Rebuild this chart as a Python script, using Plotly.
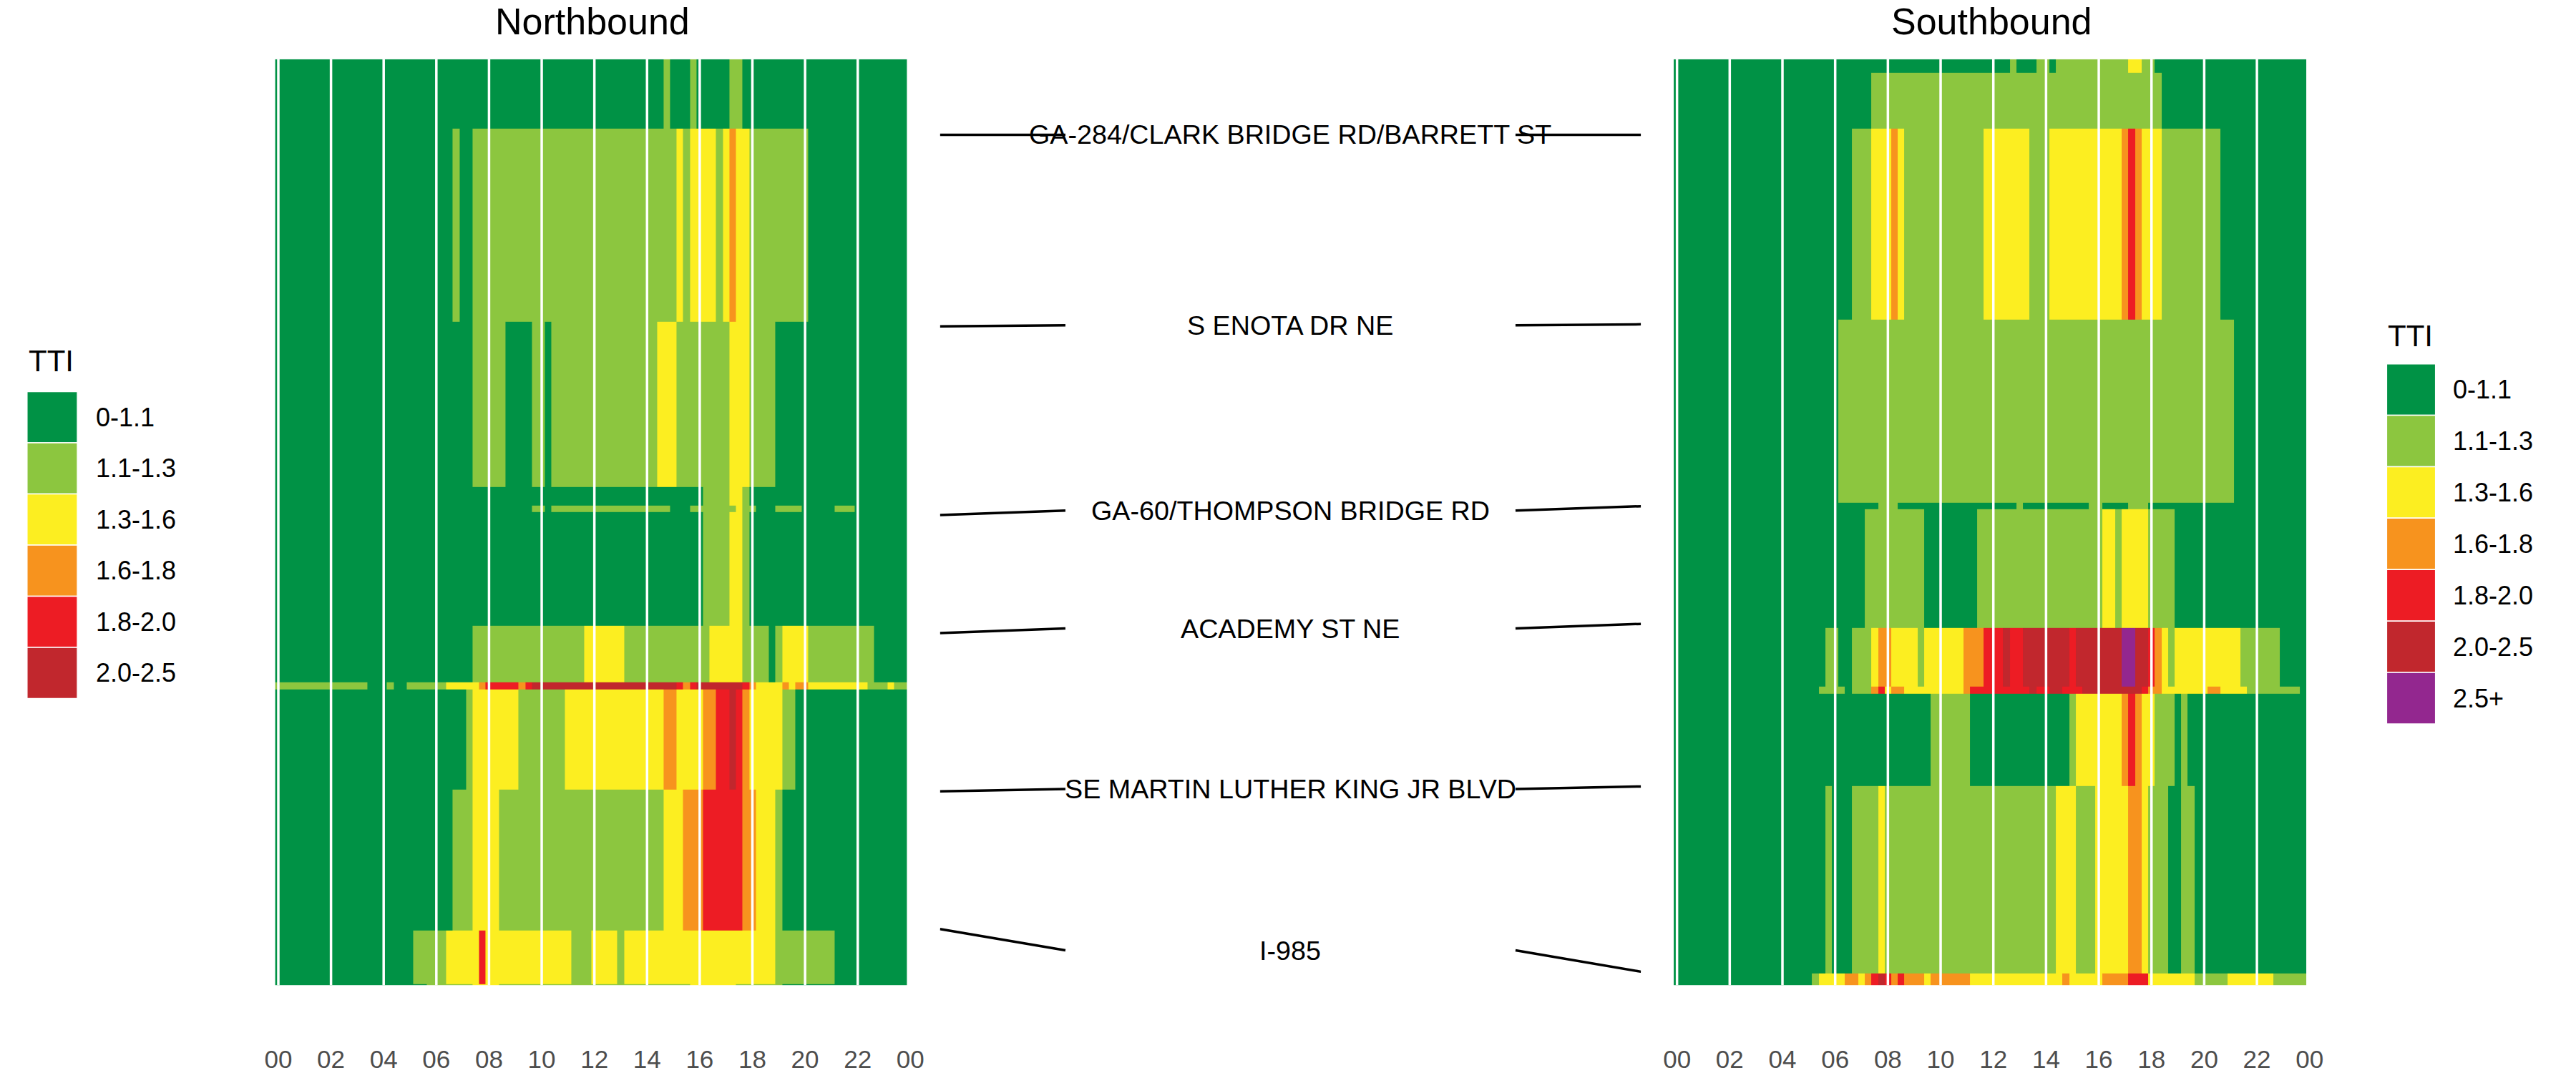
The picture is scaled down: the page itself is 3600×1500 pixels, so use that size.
import numpy as np
import plotly.graph_objects as go

W, H = 3600, 1500
FONT = "Liberation Sans, Arial, Helvetica, sans-serif"

# ---------------- data ----------------
CATEGORIES = ["0-1.1", "1.1-1.3", "1.3-1.6", "1.6-1.8", "1.8-2.0", "2.0-2.5", "2.5+"]
COLORS = ["#009245", "#8CC63F", "#FCEE21", "#F7931E", "#ED1C24", "#C1272D", "#93278F"]

N_BINS = 96                      # 15-minute bins over the day
HOUR_TICKS = list(range(0, 25, 2))
TICK_LABELS = ["00", "02", "04", "06", "08", "10", "12", "14", "16", "18", "20", "22", "00"]

# Northbound segments, listed from north end (top) to south end (bottom); lengths in miles
NB_SEG_LEN = [0.337, 0.942, 0.806, 0.090, 0.031, 0.552, 0.278, 0.035, 0.486, 0.685, 0.261, 0.007]
# TTI category per 15-min bin, run-length encoded as (category, number of bins)
NB_ROWS = [
    [(0, 59), (1, 1), (0, 3), (1, 1), (0, 5), (1, 2), (0, 25)],
    [(0, 27), (1, 1), (0, 2), (1, 31), (2, 1), (1, 1), (2, 4), (1, 1), (2, 1), (3, 1), (2, 2), (1, 9), (0, 15)],
    [(0, 30), (1, 5), (0, 4), (1, 2), (0, 1), (1, 16), (2, 3), (1, 8), (2, 3), (1, 4), (0, 20)],
    [(0, 65), (1, 4), (2, 2), (1, 1), (0, 24)],
    [(0, 39), (1, 2), (0, 1), (1, 18), (0, 3), (1, 7), (2, 1), (1, 2), (0, 3), (1, 4), (0, 5), (1, 3), (0, 8)],
    [(0, 65), (1, 4), (2, 2), (1, 1), (0, 24)],
    [(0, 30), (1, 17), (2, 6), (1, 13), (2, 5), (1, 4), (0, 1), (1, 1), (2, 4), (1, 10), (0, 5)],
    [(1, 14), (0, 3), (1, 1), (0, 2), (1, 6), (2, 5), (3, 1), (4, 5), (3, 1), (4, 1), (5, 22), (4, 1), (3, 1),
     (4, 1), (5, 7), (4, 1), (3, 1), (2, 4), (3, 1), (2, 1), (3, 2), (2, 9), (1, 3), (2, 1), (1, 2)],
    [(0, 29), (1, 1), (2, 7), (1, 7), (2, 15), (3, 2), (2, 4), (3, 2), (4, 2), (5, 1), (4, 1), (3, 1), (2, 5), (1, 2), (0, 17)],
    [(0, 27), (1, 3), (2, 4), (1, 25), (2, 3), (3, 3), (4, 6), (3, 2), (2, 3), (1, 1), (0, 19)],
    [(0, 21), (1, 5), (2, 5), (4, 1), (2, 13), (1, 3), (2, 4), (1, 1), (2, 23), (1, 9), (0, 11)],
    [(0, 23), (1, 7), (2, 4), (1, 29), (2, 7), (1, 7), (0, 19)],
]

# Southbound segments, north end (top) to south end (bottom)
SB_SEG_LEN = [0.066, 0.271, 0.931, 0.893, 0.031, 0.577, 0.285, 0.035, 0.452, 0.910, 0.059]
SB_ROWS = [
    [(0, 51), (1, 1), (0, 3), (1, 2), (0, 1), (1, 11), (2, 2), (1, 2), (0, 23)],
    [(0, 30), (1, 44), (0, 22)],
    [(0, 27), (1, 3), (2, 3), (3, 1), (2, 1), (1, 12), (2, 7), (1, 3), (2, 11), (3, 1), (4, 1), (3, 1), (2, 3), (1, 9), (0, 13)],
    [(0, 25), (1, 60), (0, 11)],
    [(0, 31), (1, 3), (0, 18), (1, 1), (0, 10), (1, 2), (0, 4), (1, 3), (0, 24)],
    [(0, 29), (1, 9), (0, 8), (1, 19), (2, 2), (1, 1), (2, 4), (1, 4), (0, 20)],
    [(0, 23), (1, 2), (0, 2), (1, 3), (2, 1), (3, 2), (2, 4), (1, 1), (2, 6), (3, 3), (4, 3), (5, 1), (4, 2),
     (5, 7), (4, 1), (5, 7), (6, 2), (5, 2), (4, 1), (3, 1), (2, 1), (1, 1), (2, 10), (1, 6), (0, 4)],
    [(0, 22), (1, 4), (0, 1), (1, 3), (3, 1), (4, 1), (2, 1), (3, 2), (2, 9), (3, 1), (4, 9), (5, 1), (4, 2),
     (5, 2), (4, 3), (5, 9), (4, 1), (3, 2), (2, 7), (3, 2), (2, 4), (1, 8), (0, 1)],
    [(0, 39), (1, 6), (0, 15), (1, 1), (2, 7), (3, 1), (4, 1), (3, 1), (2, 2), (1, 3), (0, 1), (1, 1), (0, 18)],
    [(0, 23), (1, 1), (0, 3), (1, 4), (2, 1), (1, 26), (2, 3), (1, 3), (2, 5), (3, 2), (2, 1), (1, 3), (0, 2), (1, 2), (0, 17)],
    [(0, 21), (1, 1), (2, 4), (3, 2), (2, 1), (3, 1), (4, 1), (5, 1), (4, 1), (3, 1), (4, 1), (3, 3), (2, 1),
     (3, 6), (2, 14), (3, 1), (2, 5), (3, 4), (4, 3), (2, 7), (1, 5), (2, 7), (1, 5)],
]

INTERSECTIONS = ["GA-284/CLARK BRIDGE RD/BARRETT ST", "S ENOTA DR NE", "GA-60/THOMPSON BRIDGE RD",
                 "ACADEMY ST NE", "SE MARTIN LUTHER KING JR BLVD", "I-985"]
NB_INT_POS = [4.142, 3.209, 2.290, 1.715, 0.944, 0.274]   # miles from south end
SB_INT_POS = [4.142, 3.219, 2.333, 1.760, 0.968, 0.066]


# ---------------- helpers ----------------
def expand(runs):
    out = []
    for cat, n in runs:
        out += [cat] * n
    assert len(out) == N_BINS, len(out)
    return out


def build(rows, seg_len):
    z = [expand(r) for r in rows][::-1]          # bottom row first
    y_edges = np.concatenate([[0.0], np.cumsum(seg_len[::-1])])
    return z, y_edges


x_edges = np.arange(N_BINS + 1) * 0.25 - 0.125

ncat = len(COLORS)
colorscale = []
for k, c in enumerate(COLORS):
    colorscale += [[k / ncat, c], [(k + 1) / ncat, c]]

px = lambda v: v / W
py = lambda v: 1 - v / H

total_len = float(np.sum(NB_SEG_LEN))

# panel geometry (pixels)
NB_X = (372.9, 1269.3)
SB_X = (2346.2, 3243.4)
PANEL_Y = (83, 1381)
MID_X = (1311, 2300)
XRANGE = [-0.125, 24.0]
ydom = [py(PANEL_Y[1]), py(PANEL_Y[0])]

fig = go.Figure()

z_nb, y_nb = build(NB_ROWS, NB_SEG_LEN)
z_sb, y_sb = build(SB_ROWS, SB_SEG_LEN)

for z, ye, xa, ya in [(z_nb, y_nb, "x", "y"), (z_sb, y_sb, "x2", "y2")]:
    fig.add_trace(go.Heatmap(
        z=z, x=x_edges, y=ye, colorscale=colorscale, zmin=-0.5, zmax=ncat - 0.5,
        showscale=False, xaxis=xa, yaxis=ya, hoverinfo="skip", zsmooth=False,
    ))

# connectors between the panels
a_left = (1488 - MID_X[0]) / (MID_X[1] - MID_X[0])
a_right = (2123 - MID_X[0]) / (MID_X[1] - MID_X[0])
for name, ynb, ysb in zip(INTERSECTIONS, NB_INT_POS, SB_INT_POS):
    ymid = (ynb + ysb) / 2
    fig.add_trace(go.Scatter(x=[0, a_left], y=[ynb, ymid], mode="lines",
                             line=dict(color="black", width=3.5), xaxis="x3", yaxis="y3",
                             hoverinfo="skip", showlegend=False))
    fig.add_trace(go.Scatter(x=[a_right, 1], y=[ymid, ysb], mode="lines",
                             line=dict(color="black", width=3.5), xaxis="x3", yaxis="y3",
                             hoverinfo="skip", showlegend=False))
    fig.add_annotation(x=0.5, y=ymid, xref="x3", yref="y3", text=name, showarrow=False,
                       font=dict(family=FONT, size=37.7, color="black"),
                       xanchor="center", yanchor="middle")

xaxis_common = dict(range=XRANGE, tickvals=HOUR_TICKS, ticktext=TICK_LABELS, showgrid=False,
                    zeroline=False, showline=False, ticks="", ticklabelstandoff=80,
                    tickfont=dict(family=FONT, size=35, color="#4D4D4D"), fixedrange=True)
yaxis_common = dict(range=[0, total_len], domain=ydom, visible=False, fixedrange=True)

fig.update_layout(
    width=W, height=H, margin=dict(l=0, r=0, t=0, b=0),
    paper_bgcolor="white", plot_bgcolor="white", showlegend=False,
    xaxis=dict(domain=[px(NB_X[0]), px(NB_X[1])], anchor="y", **xaxis_common),
    yaxis=dict(anchor="x", **yaxis_common),
    xaxis2=dict(domain=[px(SB_X[0]), px(SB_X[1])], anchor="y2", **xaxis_common),
    yaxis2=dict(anchor="x2", **yaxis_common),
    xaxis3=dict(domain=[px(MID_X[0]), px(MID_X[1])], anchor="y3", range=[0, 1], visible=False),
    yaxis3=dict(anchor="x3", **yaxis_common),
)

# white 2-hour lines over the tiles
shapes = []
for xa, ya in [("x", "y"), ("x2", "y2")]:
    for h in HOUR_TICKS[:-1]:
        shapes.append(dict(type="line", xref=xa, yref=f"{ya} domain", x0=h, x1=h, y0=0, y1=1,
                           line=dict(color="white", width=3.5), layer="above"))

# panel titles
for text, dom in [("Northbound", NB_X), ("Southbound", SB_X)]:
    fig.add_annotation(x=px((dom[0] + dom[1]) / 2), y=1, xref="paper", yref="paper",
                       text=text, showarrow=False, xanchor="center", yanchor="top", borderpad=0,
                       font=dict(family=FONT, size=52, color="black"))


# legends (left: Northbound, 6 classes; right: Southbound, 7 classes)
def legend(x0, box_w, title_y, top, step, n, label_x):
    fig.add_annotation(x=px(x0), y=py(title_y), xref="paper", yref="paper", text="TTI",
                       showarrow=False, xanchor="left", yanchor="middle",
                       font=dict(family=FONT, size=42, color="black"))
    for k in range(n):
        y0 = top + k * step
        shapes.append(dict(type="rect", xref="paper", yref="paper",
                           x0=px(x0), x1=px(x0 + box_w), y0=py(y0), y1=py(y0 + step),
                           fillcolor=COLORS[k], line=dict(color="white", width=1.5), layer="above"))
        fig.add_annotation(x=px(label_x), y=py(y0 + step / 2), xref="paper", yref="paper",
                           text=CATEGORIES[k], showarrow=False, xanchor="left", yanchor="middle",
                           font=dict(family=FONT, size=36, color="black"))


legend(23, 71, 506, 549, 71.7, 6, 118)
legend(3352, 69, 471, 510, 72.1, 7, 3444)

fig.update_layout(shapes=shapes)
fig.write_html("out.html")
